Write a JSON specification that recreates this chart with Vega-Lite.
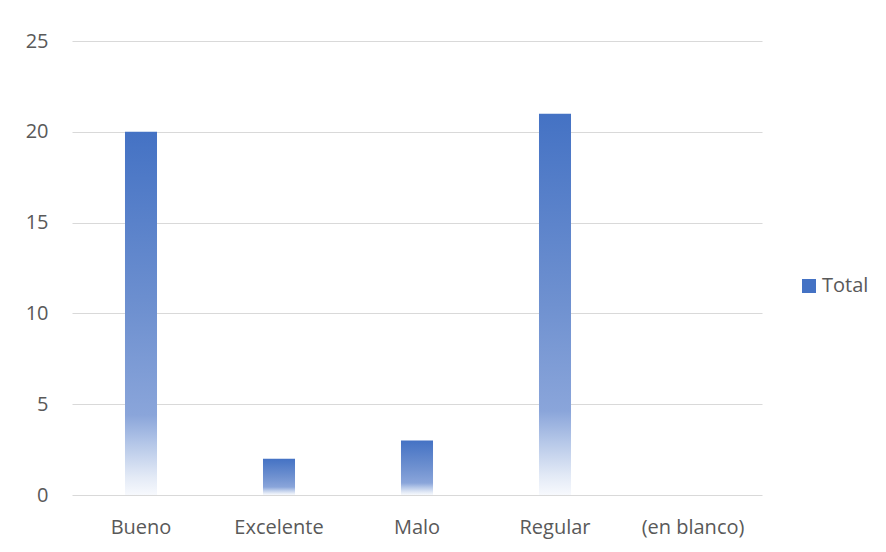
{
  "$schema": "https://vega.github.io/schema/vega-lite/v6.json",
  "width": 690,
  "height": 454,
  "autosize": {"type": "none"},
  "padding": {"left": 72, "top": 41, "right": 124, "bottom": 57},
  "background": "#ffffff",
  "config": {
    "view": {"stroke": null},
    "font": "Open Sans",
    "axis": {
      "labelFont": "Open Sans",
      "labelColor": "#595959",
      "labelFontSize": 20,
      "title": null,
      "domain": false,
      "ticks": false
    }
  },
  "data": {
    "values": [
      {"categoria": "Bueno", "total": 20},
      {"categoria": "Excelente", "total": 2},
      {"categoria": "Malo", "total": 3},
      {"categoria": "Regular", "total": 21},
      {"categoria": "(en blanco)", "total": 0}
    ]
  },
  "encoding": {
    "x": {
      "field": "categoria",
      "type": "nominal",
      "sort": null,
      "scale": {"paddingInner": 0, "paddingOuter": 0},
      "axis": {"labelAngle": 0, "labelPadding": 22, "grid": false}
    },
    "y": {
      "field": "total",
      "type": "quantitative",
      "scale": {"domain": [0, 25], "nice": false},
      "axis": {
        "values": [0, 5, 10, 15, 20, 25],
        "labelPadding": 24,
        "grid": true,
        "gridColor": "#d9d9d9",
        "gridWidth": 1
      }
    }
  },
  "layer": [
    {
      "mark": {
        "type": "bar",
        "width": {"band": 0.232},
        "color": {
          "gradient": "linear",
          "x1": 0, "y1": 0, "x2": 0, "y2": 1,
          "stops": [
            {"offset": 0, "color": "#4472c4"},
            {"offset": 0.5, "color": "#6f91d0"},
            {"offset": 0.78, "color": "#8aa5da"},
            {"offset": 0.86, "color": "#b5c7e8"},
            {"offset": 0.95, "color": "#e3eaf6"},
            {"offset": 1, "color": "#f7f9fd"}
          ]
        }
      }
    },
    {
      "mark": {"type": "bar", "width": {"band": 0.232}, "opacity": 0},
      "encoding": {
        "color": {
          "datum": "Total",
          "scale": {"range": ["#4472c4"]},
          "legend": {
            "title": null,
            "orient": "none",
            "legendX": 727,
            "legendY": 235,
            "symbolType": "square",
            "symbolSize": 196,
            "symbolOpacity": 1,
            "symbolStrokeWidth": 0,
            "labelFont": "Open Sans",
            "labelFontSize": 20,
            "labelColor": "#595959",
            "labelOffset": 3
          }
        }
      }
    }
  ]
}
